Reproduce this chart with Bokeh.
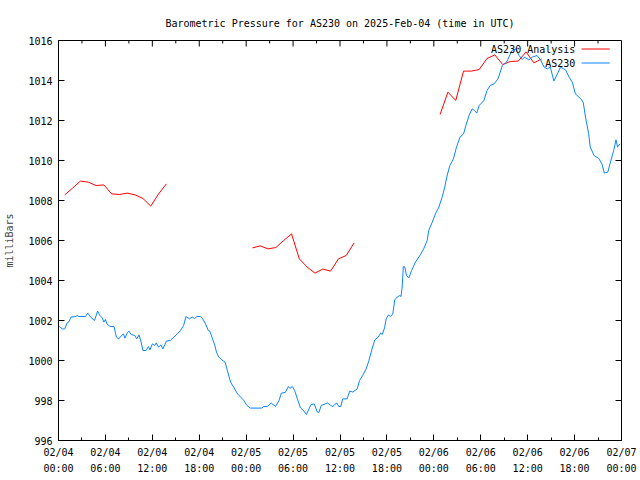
from bokeh.plotting import figure
from bokeh.models import FixedTicker, Label
from bokeh.embed import file_html
from bokeh.resources import INLINE

# ---- data (hours since 2025-02-04 00:00 UTC, pressure in millibars) ----
station_t = [0.1, 0.5, 0.8, 1.1, 1.3, 1.6, 2.2, 2.4, 2.6, 3.45, 3.75, 4.1, 4.6, 5.0, 5.3, 5.6,
             5.8, 6.0, 6.2, 6.6, 7.1, 7.4, 7.7, 8.0, 8.3, 8.5, 8.8, 9.0, 9.3, 9.75, 10.0, 10.3,
             10.5, 10.8, 11.2, 11.5, 11.7, 12.0, 12.3, 12.5, 12.8, 13.1, 13.35, 13.8, 14.3,
             14.75, 15.2, 15.6, 16.0, 16.3, 16.75, 17.1, 17.4, 17.7, 18.15, 18.45, 18.8, 19.15,
             19.35, 19.7, 20.0, 20.2, 20.5, 20.9, 21.3, 21.6, 22.0, 22.4, 22.9, 23.3, 23.7, 24.1,
             24.55, 26.0, 26.2, 26.7, 27.2, 27.75, 28.2, 28.5, 29.0, 29.4, 29.6, 29.9, 30.2,
             30.55, 30.95, 31.4, 31.7, 32.3, 32.7, 33.1, 33.3, 33.6, 34.1, 34.4, 34.8, 35.1,
             35.3, 35.6, 35.85, 36.1, 36.35, 36.9, 37.25, 37.65, 38.2, 38.5, 38.9, 39.35, 39.7,
             40.1, 40.45, 40.9, 41.2, 41.4, 41.7, 41.9, 42.2, 42.45, 42.75, 43.0, 43.3, 43.65,
             43.8, 43.95, 44.1, 44.3, 44.5, 44.8, 45.15, 45.65, 46.3, 46.7, 47.15, 47.35, 47.8,
             48.2, 48.6, 49.05, 49.4, 49.65, 50.05, 50.5, 50.9, 51.35, 51.8, 52.1, 52.5, 52.9,
             53.2, 53.5, 53.8, 54.4, 54.8, 55.2, 55.7, 56.2, 56.5, 56.75, 57.3, 57.6, 58.0, 58.5,
             58.9, 59.3, 59.6, 60.15, 60.6, 61.2, 61.65, 62.1, 62.5, 62.9, 63.35, 63.8, 64.2,
             64.85, 65.3, 65.7, 66.1, 66.8, 67.1, 67.4, 67.8, 68.0, 68.5, 69.1, 69.5, 69.8,
             70.25, 70.7, 71.0, 71.3, 71.5, 71.8]
station_p = [1001.7, 1001.58, 1001.58, 1001.87, 1001.92, 1002.17, 1002.2, 1002.25, 1002.2,
             1002.2, 1002.37, 1002.17, 1002.0, 1002.47, 1002.25, 1002.13, 1001.92, 1002.05,
             1001.83, 1001.7, 1001.7, 1001.17, 1001.08, 1001.22, 1001.33, 1001.12, 1001.38,
             1001.47, 1001.3, 1001.25, 1001.08, 1001.28, 1001.03, 1000.5, 1000.5, 1000.7,
             1000.53, 1000.83, 1000.75, 1000.88, 1000.67, 1000.78, 1000.58, 1000.97, 1001.0,
             1001.17, 1001.33, 1001.5, 1001.75, 1002.2, 1002.08, 1002.17, 1002.1, 1002.2,
             1002.2, 1002.08, 1001.83, 1001.5, 1001.47, 1001.08, 1000.75, 1000.42, 1000.17,
             1000.03, 999.92, 999.5, 998.92, 998.67, 998.33, 998.17, 998.0, 997.75, 997.62,
             997.62, 997.7, 997.7, 997.87, 997.7, 998.0, 998.37, 998.4, 998.7, 998.6, 998.7,
             998.5, 998.08, 997.63, 997.47, 997.3, 997.8, 997.83, 997.42, 997.4, 997.75, 997.83,
             997.88, 997.75, 997.7, 997.8, 997.87, 997.7, 997.7, 998.08, 998.08, 998.47, 998.42,
             998.58, 999.0, 999.25, 999.58, 1000.0, 1000.58, 1001.03, 1001.17, 1001.37, 1001.3,
             1001.63, 1002.08, 1002.28, 1002.2, 1002.33, 1003.03, 1003.17, 1003.25, 1003.2,
             1003.67, 1004.7, 1004.67, 1004.25, 1004.12, 1004.5, 1004.92, 1005.3, 1005.58,
             1006.0, 1006.5, 1006.92, 1007.33, 1007.62, 1008.15, 1008.67, 1009.17, 1009.75,
             1010.08, 1010.67, 1011.17, 1011.33, 1011.75, 1012.25, 1012.58, 1012.5, 1012.37,
             1012.75, 1013.0, 1013.5, 1013.75, 1013.83, 1014.08, 1014.42, 1014.75, 1014.92,
             1015.17, 1015.5, 1015.58, 1015.25, 1015.05, 1015.17, 1015.03, 1015.17, 1015.25,
             1015.03, 1014.67, 1014.58, 1014.67, 1013.97, 1014.33, 1014.67, 1014.53, 1014.17,
             1013.92, 1013.33, 1013.08, 1012.92, 1012.17, 1011.33, 1010.67, 1010.25, 1010.1,
             1009.83, 1009.37, 1009.42, 1010.08, 1010.5, 1011.03, 1010.67, 1010.83]

analysis1_t = [0.8, 1.8, 2.8, 3.8, 4.8, 5.8, 6.8, 7.8, 8.8, 9.8, 10.8, 11.8, 12.8, 13.8]
analysis1_p = [1008.28, 1008.62, 1008.97, 1008.92, 1008.75, 1008.78, 1008.33, 1008.3,
               1008.37, 1008.28, 1008.1, 1007.72, 1008.33, 1008.83]
analysis2_t = [24.8, 25.8, 26.8, 27.8, 28.8, 29.8, 30.8, 31.8, 32.8, 33.8, 34.8, 35.8, 36.8, 37.8]
analysis2_p = [1005.63, 1005.73, 1005.58, 1005.65, 1006.0, 1006.33, 1005.08, 1004.67,
               1004.37, 1004.57, 1004.47, 1005.08, 1005.25, 1005.88]
analysis3_t = [48.8, 49.8, 50.8, 51.8, 52.8, 53.8, 54.8, 55.8, 56.8, 57.8, 58.8, 59.8, 60.8, 61.8]
analysis3_p = [1012.3, 1013.42, 1013.0, 1014.47, 1014.47, 1014.55, 1015.1, 1015.28,
               1014.8, 1014.95, 1014.97, 1015.43, 1014.88, 1015.08]

x_major = [0, 6, 12, 18, 24, 30, 36, 42, 48, 54, 60, 66, 72]
x_minor = [3, 9, 15, 21, 27, 33, 39, 45, 51, 57, 63, 69]
x_labels = ["02/04\n00:00", "02/04\n06:00", "02/04\n12:00", "02/04\n18:00",
            "02/05\n00:00", "02/05\n06:00", "02/05\n12:00", "02/05\n18:00",
            "02/06\n00:00", "02/06\n06:00", "02/06\n12:00", "02/06\n18:00",
            "02/07\n00:00"]
y_major = [996, 998, 1000, 1002, 1004, 1006, 1008, 1010, 1012, 1014, 1016]

series_names = ["AS230 Analysis", "AS230"]

FONT = "DejaVu Sans Mono"
FS = "10px"
RED = "#ff0000"
BLUE = "#0a84ff"

X0, X1 = x_major[0], x_major[-1]
Y0, Y1 = y_major[0], y_major[-1]
FRAME_W, FRAME_H = 563, 400          # frame size in px (640 - 58 - 19, 480 - 40 - 40)
MAJ_PX, MIN_PX = 6, 3                # inward tick lengths in px

p = figure(width=640, height=480, x_range=(X0, X1), y_range=(Y0, Y1),
           output_backend="svg", toolbar_location=None,
           min_border_left=58, min_border_right=19, min_border_top=40, min_border_bottom=40,
           title="Barometric Pressure for AS230 on 2025-Feb-04 (time in UTC)")
p.title.align = "center"
p.title.text_font = FONT
p.title.text_font_size = FS
p.title.text_font_style = "normal"
p.title.text_color = "black"
p.title.standoff = 24

p.xgrid.visible = False
p.ygrid.visible = False
p.outline_line_color = "black"
p.outline_line_width = 1
p.background_fill_color = "white"
p.border_fill_color = "white"

xt = FixedTicker(ticks=x_major, minor_ticks=x_minor)
yt = FixedTicker(ticks=y_major)

for ax in (p.xaxis[0], p.yaxis[0]):
    ax.major_tick_in = MAJ_PX
    ax.major_tick_out = 0
    ax.minor_tick_in = MIN_PX
    ax.minor_tick_out = 0
    ax.major_tick_line_color = "black"
    ax.minor_tick_line_color = "black"
    ax.axis_line_color = "black"
    ax.major_label_text_font = FONT
    ax.major_label_text_font_size = FS
    ax.major_label_text_color = "black"
    ax.major_label_standoff = 6

p.xaxis.ticker = xt
p.xaxis.major_label_overrides = {t: lab for t, lab in zip(x_major, x_labels)}
p.xaxis[0].major_label_text_line_height = 1.5
p.yaxis.ticker = yt
p.yaxis[0].minor_tick_line_color = None
p.yaxis.axis_label = "milliBars"
p.yaxis.axis_label_text_font = FONT
p.yaxis.axis_label_text_font_size = FS
p.yaxis.axis_label_text_font_style = "normal"
p.yaxis.axis_label_standoff = 10

# mirrored inward ticks on the top and right frame edges (as gnuplot draws them)
dy_maj = MAJ_PX * (Y1 - Y0) / FRAME_H
dy_min = MIN_PX * (Y1 - Y0) / FRAME_H
dx_maj = MAJ_PX * (X1 - X0) / FRAME_W
tick_xs = [[t, t] for t in x_major] + [[t, t] for t in x_minor] + [[X1, X1 - dx_maj] for _ in y_major]
tick_ys = ([[Y1, Y1 - dy_maj] for _ in x_major] + [[Y1, Y1 - dy_min] for _ in x_minor]
           + [[v, v] for v in y_major])
p.multi_line(xs=tick_xs, ys=tick_ys, line_color="black", line_width=1)

p.line(analysis1_t, analysis1_p, line_color=RED, line_width=1)
p.line(analysis2_t, analysis2_p, line_color=RED, line_width=1)
p.line(analysis3_t, analysis3_p, line_color=RED, line_width=1)
p.line(station_t, station_p, line_color=BLUE, line_width=1)

# legend (gnuplot style: text then sample line), top-right inside the frame
leg_y = [1015.575, 1014.875]
leg_colors = [RED, BLUE]
for name, color, ly in zip(series_names, leg_colors, leg_y):
    p.line([66.9, 70.5], [ly, ly], line_color=color, line_width=1)
    p.add_layout(Label(x=66.1, y=ly, text=name, text_align="right", text_baseline="middle",
                       text_font=FONT, text_font_size=FS, text_color="black"))

open("out.html", "w").write(file_html(p, INLINE))
